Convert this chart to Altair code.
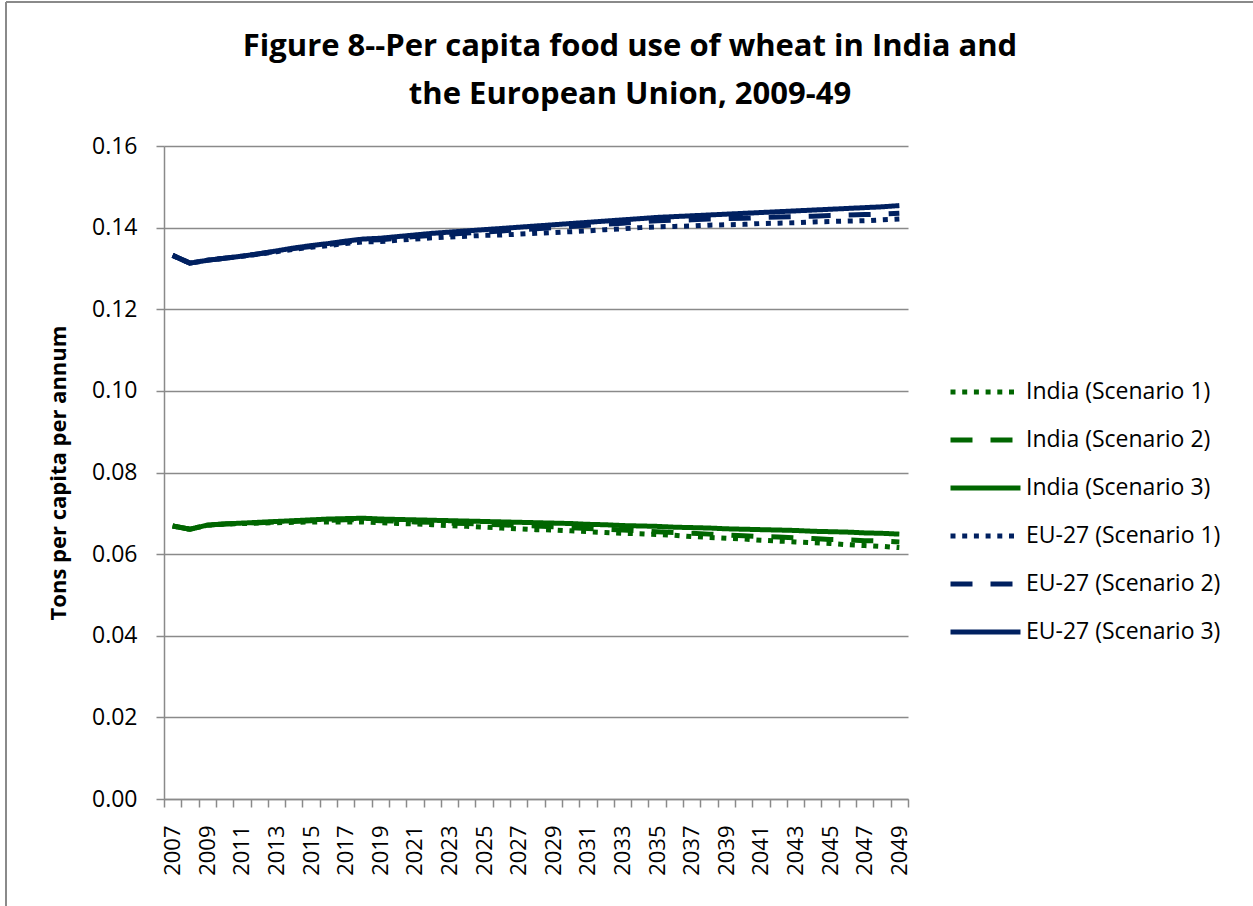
import altair as alt
import pandas as pd

# Per capita food use of wheat (tons per capita per annum), 2007-2049
years = list(range(2007, 2050))

india_s1 = [0.0669, 0.0661, 0.0671, 0.0673, 0.0675, 0.0676, 0.0677, 0.0678, 0.0679, 0.0679,
            0.0679, 0.0679, 0.0677, 0.0675, 0.0674, 0.0672, 0.0670, 0.0668, 0.0666, 0.0664,
            0.0662, 0.0660, 0.0659, 0.0657, 0.0655, 0.0653, 0.0651, 0.0650, 0.0648, 0.0646,
            0.0643, 0.0641, 0.0639, 0.0637, 0.0634, 0.0632, 0.0630, 0.0628, 0.0626, 0.0623,
            0.0621, 0.0619, 0.0616]
india_s2 = [0.0669, 0.0661, 0.0671, 0.0674, 0.0676, 0.0677, 0.0679, 0.0680, 0.0682, 0.0683,
            0.0684, 0.0684, 0.0682, 0.0681, 0.0679, 0.0678, 0.0676, 0.0675, 0.0673, 0.0672,
            0.0670, 0.0669, 0.0667, 0.0665, 0.0663, 0.0661, 0.0659, 0.0657, 0.0655, 0.0653,
            0.0651, 0.0649, 0.0647, 0.0645, 0.0643, 0.0642, 0.0640, 0.0638, 0.0636, 0.0635,
            0.0633, 0.0632, 0.0630]
india_s3 = [0.0669, 0.0661, 0.0671, 0.0674, 0.0676, 0.0678, 0.0680, 0.0682, 0.0684, 0.0686,
            0.0687, 0.0688, 0.0686, 0.0685, 0.0684, 0.0683, 0.0682, 0.0681, 0.0680, 0.0679,
            0.0678, 0.0677, 0.0676, 0.0675, 0.0673, 0.0672, 0.0670, 0.0669, 0.0668, 0.0666,
            0.0665, 0.0664, 0.0662, 0.0661, 0.0660, 0.0659, 0.0658, 0.0656, 0.0655, 0.0654,
            0.0652, 0.0651, 0.0649]
eu_s1 = [0.1332, 0.1313, 0.1320, 0.1325, 0.1330, 0.1335, 0.1341, 0.1347, 0.1352, 0.1356,
         0.1361, 0.1365, 0.1366, 0.1369, 0.1372, 0.1375, 0.1377, 0.1379, 0.1381, 0.1382,
         0.1384, 0.1386, 0.1388, 0.1390, 0.1392, 0.1395, 0.1397, 0.1400, 0.1402, 0.1403,
         0.1404, 0.1406, 0.1407, 0.1408, 0.1410, 0.1411, 0.1412, 0.1414, 0.1415, 0.1416,
         0.1417, 0.1419, 0.1421]
eu_s2 = [0.1332, 0.1313, 0.1320, 0.1325, 0.1330, 0.1336, 0.1342, 0.1349, 0.1354, 0.1359,
         0.1364, 0.1369, 0.1370, 0.1374, 0.1378, 0.1381, 0.1384, 0.1387, 0.1389, 0.1392,
         0.1395, 0.1397, 0.1400, 0.1403, 0.1406, 0.1408, 0.1411, 0.1414, 0.1417, 0.1418,
         0.1419, 0.1421, 0.1422, 0.1423, 0.1425, 0.1426, 0.1427, 0.1428, 0.1430, 0.1431,
         0.1432, 0.1433, 0.1435]
eu_s3 = [0.1332, 0.1313, 0.1320, 0.1325, 0.1330, 0.1336, 0.1343, 0.1350, 0.1356, 0.1361,
         0.1367, 0.1372, 0.1374, 0.1378, 0.1382, 0.1386, 0.1389, 0.1392, 0.1395, 0.1398,
         0.1401, 0.1404, 0.1407, 0.1410, 0.1413, 0.1416, 0.1419, 0.1422, 0.1425, 0.1427,
         0.1429, 0.1431, 0.1433, 0.1435, 0.1437, 0.1439, 0.1441, 0.1443, 0.1445, 0.1447,
         0.1449, 0.1451, 0.1454]

series_names = [
    "India (Scenario 1)", "India (Scenario 2)", "India (Scenario 3)",
    "EU-27 (Scenario 1)", "EU-27 (Scenario 2)", "EU-27 (Scenario 3)",
]
series_values = [india_s1, india_s2, india_s3, eu_s1, eu_s2, eu_s3]

y_ticks = [0.00, 0.02, 0.04, 0.06, 0.08, 0.10, 0.12, 0.14, 0.16]
# category boundaries for the x tick marks (labels sit between them)
x_bounds = [y - 0.5 for y in years] + [years[-1] + 0.5]

title_lines = ["Figure 8--Per capita food use of wheat in India and",
               "the European Union, 2009-49"]
y_title = "Tons per capita per annum"

rows = []
for name, vals in zip(series_names, series_values):
    for yr, v in zip(years, vals):
        rows.append({"year": yr, "value": v, "series": name})
df = pd.DataFrame(rows)

FONT = "Open Sans"
GREEN = "#006600"
NAVY = "#002060"
GRAY = "#8a8a8a"

W, H = 744, 653
LEFT, TOP = 164, 146
band = W / len(years)

color_scale = alt.Scale(domain=series_names, range=[GREEN] * 3 + [NAVY] * 3)
dash_scale = alt.Scale(domain=series_names,
                       range=[[5, 6.7], [22, 18], [1, 0]] * 2)

legend = alt.Legend(
    title=None, orient="none", legendX=784, legendY=222, padding=0,
    symbolType="stroke", symbolSize=4900, symbolStrokeWidth=5,
    labelFont=FONT, labelFontSize=23, labelColor="black", labelOffset=3,
    labelLimit=0, rowPadding=0, clipHeight=48,
)

x_axis = alt.Axis(
    values=x_bounds,
    labelExpr="(datum.value + 0.5) % 2 == 1 && datum.value < 2049 ? '' + (datum.value + 0.5) : ''",
    labelAngle=270, labelOffset=band / 2, labelPadding=18,
    labelFont=FONT, labelFontSize=22, labelColor="black",
    labelOverlap=False, labelFlush=False, labelBound=False,
    tickSize=8, tickColor=GRAY, tickWidth=1.5,
    domainColor=GRAY, domainWidth=1.5, grid=False, title=None,
)

y_axis = alt.Axis(
    values=y_ticks, format=".2f",
    labelFont=FONT, labelFontSize=23, labelColor="black", labelPadding=19,
    tickSize=8, tickColor=GRAY, tickWidth=1.5,
    domainColor=GRAY, domainWidth=1.5,
    grid=True, gridColor=GRAY, gridWidth=1.5,
    title=y_title, titleFont=FONT, titleFontSize=22, titleFontWeight="bold",
    titleColor="black", titleX=-106, titleY=H / 2, titleBaseline="middle",
)

lines = alt.Chart(df).mark_line(strokeWidth=5, strokeJoin="round").encode(
    x=alt.X("year:Q", scale=alt.Scale(domain=[years[0] - 0.5, years[-1] + 0.5], nice=False, zero=False),
            axis=x_axis),
    y=alt.Y("value:Q", scale=alt.Scale(domain=[0, 0.16], nice=False), axis=y_axis),
    color=alt.Color("series:N", scale=color_scale, sort=series_names, legend=legend),
    strokeDash=alt.StrokeDash("series:N", scale=dash_scale, sort=series_names, legend=legend),
    order=alt.Order("year:Q"),
)

# outer frame of the chart area (left and top edges)
frame_data = alt.Data(values=[{"k": 1}])
frame_left = alt.Chart(frame_data).mark_rule(color=GRAY, strokeWidth=2).encode(
    x=alt.value(6 - LEFT), y=alt.value(2 - TOP), y2=alt.value(906 - TOP))
frame_top = alt.Chart(frame_data).mark_rule(color=GRAY, strokeWidth=2).encode(
    x=alt.value(6 - LEFT), x2=alt.value(1253 - LEFT), y=alt.value(2 - TOP))

chart = alt.layer(lines, frame_left, frame_top).properties(
    width=W, height=H,
    autosize=alt.AutoSizeParams(type="none"),
    padding={"left": LEFT, "top": TOP, "right": 1253 - LEFT - W, "bottom": 906 - TOP - H},
    title=alt.TitleParams(
        text=title_lines, font=FONT, fontSize=31, fontWeight="bold", color="black",
        anchor="middle", frame="group", dx=94, dy=130, lineHeight=48, offset=20,
    ),
    background="white",
).configure_view(stroke=None)

chart.save("out.html", embed_options={"renderer": "svg", "actions": False})
